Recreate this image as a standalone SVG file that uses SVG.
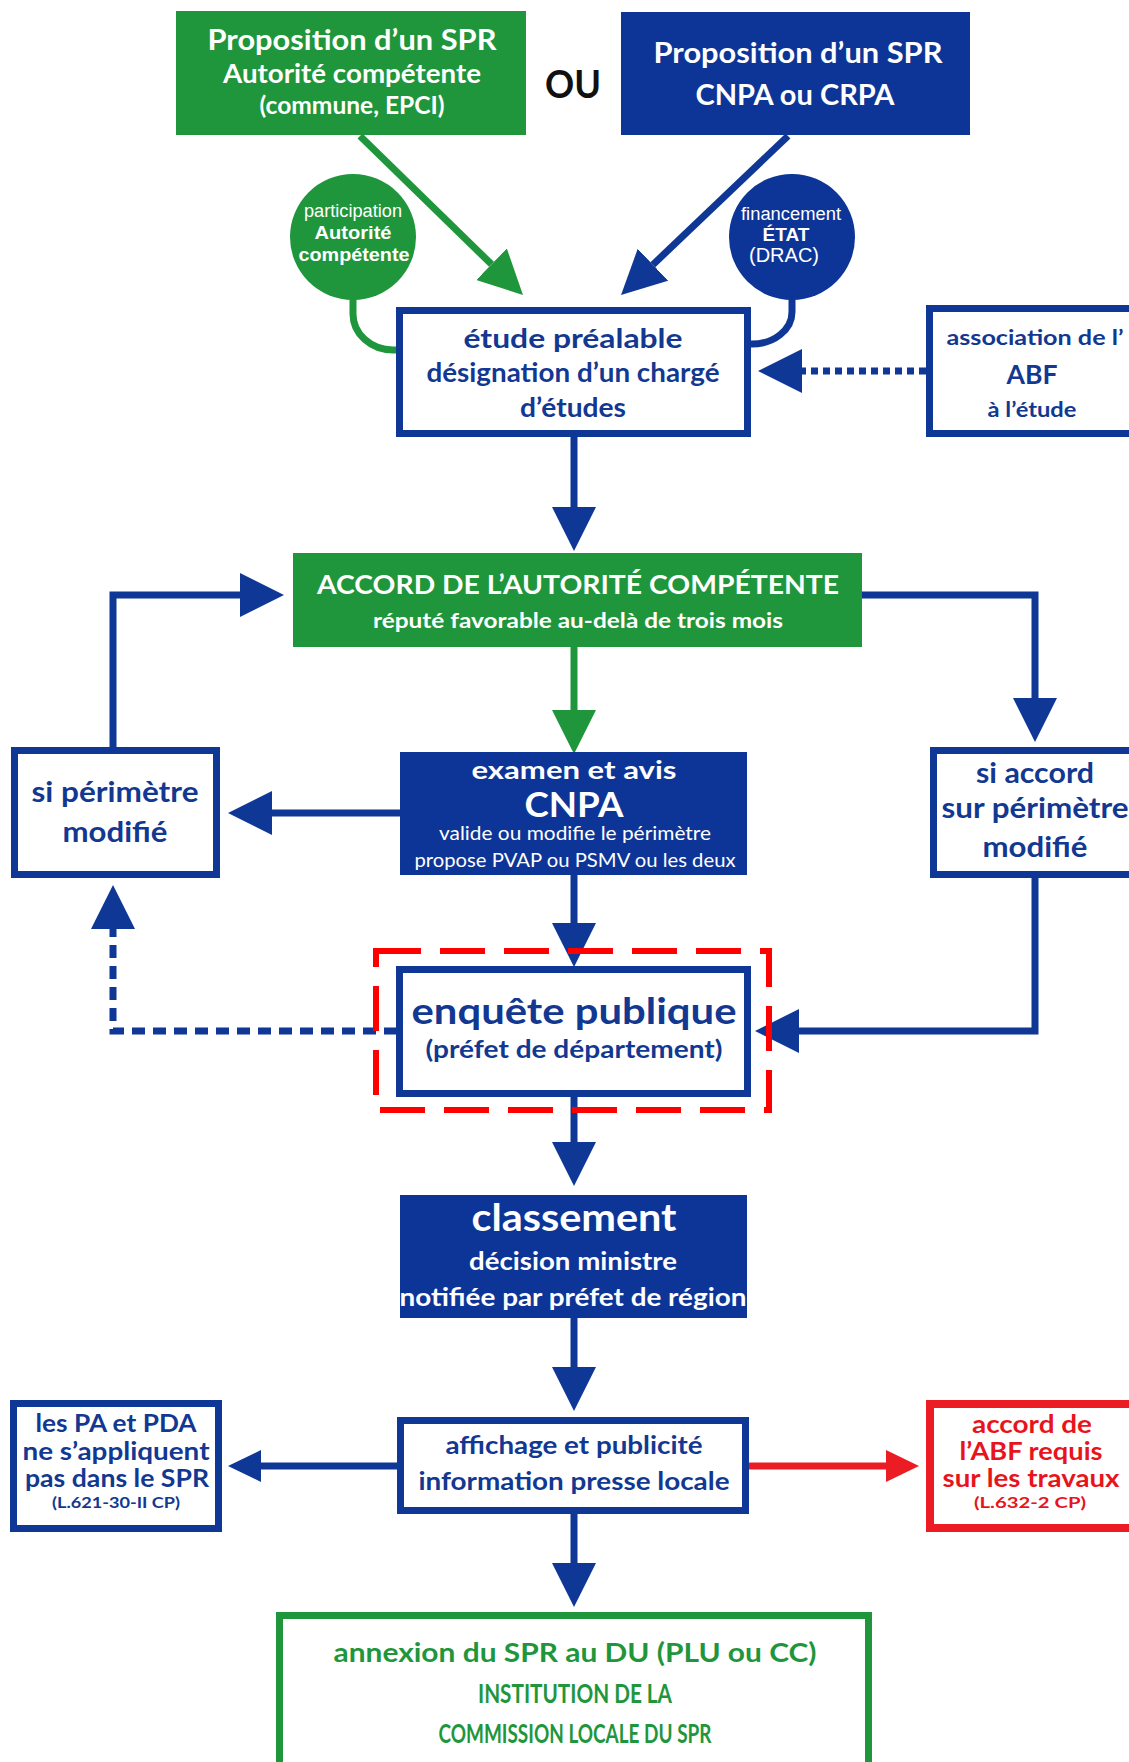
<svg xmlns="http://www.w3.org/2000/svg" width="1129" height="1762" viewBox="0 0 1129 1762">
<style>
text{font-family:Lato,"Open Sans","Liberation Sans",sans-serif;font-weight:700;text-anchor:middle}
.w{fill:#ffffff}
.b{fill:#123891}
.g{fill:#1f963c}
.r{fill:#e8141b}
.k{fill:#111111}
.ar{font-family:"Liberation Sans",Arial,sans-serif}
.n{font-weight:400}
.fg{fill:#1f963c}
.fb{fill:#0d3597}
.ob{fill:#ffffff;stroke:#0e3796;stroke-width:7}
.og{fill:#ffffff;stroke:#1f963c;stroke-width:7}
.orr{fill:#ffffff;stroke:#ec1c24;stroke-width:8}
.cb{fill:none;stroke:#0e3796;stroke-width:7}
.cg{fill:none;stroke:#1f963c;stroke-width:7}
.cr{fill:none;stroke:#ec1c24;stroke-width:7}
</style>
<defs>
<marker id="mb" markerUnits="userSpaceOnUse" markerWidth="44" markerHeight="44" refX="0" refY="22" orient="auto" viewBox="0 0 44 44"><path d="M0,0 L44,22 L0,44 Z" fill="#0e3796"/></marker>
<marker id="mg" markerUnits="userSpaceOnUse" markerWidth="44" markerHeight="44" refX="0" refY="22" orient="auto" viewBox="0 0 44 44"><path d="M0,0 L44,22 L0,44 Z" fill="#1f963c"/></marker>
<marker id="sb" markerUnits="userSpaceOnUse" markerWidth="33" markerHeight="32" refX="0" refY="16" orient="auto" viewBox="0 0 33 32"><path d="M0,0 L33,16 L0,32 Z" fill="#0e3796"/></marker>
<marker id="sr" markerUnits="userSpaceOnUse" markerWidth="33" markerHeight="32" refX="0" refY="16" orient="auto" viewBox="0 0 33 32"><path d="M0,0 L33,16 L0,32 Z" fill="#ec1c24"/></marker>
</defs>

<g id="connectors">
<path class="cg" d="M360,136 L491.5,264.3" marker-end="url(#mg)"/>
<path class="cb" d="M788,136 L652.9,264.7" marker-end="url(#mb)"/>
<path class="cg" stroke-width="6" d="M353,299 V314 A40,36 0 0 0 393,350 H398"/>
<path class="cb" stroke-width="6" d="M792,299 V312 A40,32 0 0 1 752,344 H748"/>
<path class="cb" stroke-dasharray="7 5" d="M926,371 H802" marker-end="url(#mb)"/>
<path class="cb" d="M574,437 V507" marker-end="url(#mb)"/>
<path class="cg" stroke-width="6" d="M574,647 V710" marker-end="url(#mg)"/>
<path class="cb" d="M113,747 V595 H240" marker-end="url(#mb)"/>
<path class="cb" d="M862,595 H1035 V698" marker-end="url(#mb)"/>
<path class="cb" d="M400,813 H272" marker-end="url(#mb)"/>
<path class="cb" d="M574,875 V923" marker-end="url(#mb)"/>
<path class="cb" d="M1035,878 V1031 H799" marker-end="url(#mb)"/>
<path class="cb" stroke-dasharray="13 8" d="M397,1031 H113 V929" marker-end="url(#mb)"/>
<path class="cb" d="M574,1097 V1142" marker-end="url(#mb)"/>
<path class="cb" d="M574,1318 V1367" marker-end="url(#mb)"/>
<path class="cb" d="M397,1466 H261" marker-end="url(#sb)"/>
<path class="cr" d="M749,1466 H886" marker-end="url(#sr)"/>
<path class="cb" d="M574,1514 V1563" marker-end="url(#mb)"/>
</g>

<g id="prop-autorite">
<rect class="fg" x="176" y="11" width="350" height="124"/>
<text class="w" x="352" y="50" font-size="28" textLength="289" lengthAdjust="spacingAndGlyphs">Proposition d’un SPR</text>
<text class="w" x="352" y="83" font-size="26" textLength="258" lengthAdjust="spacingAndGlyphs">Autorité compétente</text>
<text class="w" x="352" y="114" font-size="24" textLength="185" lengthAdjust="spacingAndGlyphs">(commune, EPCI)</text>
</g>

<g id="ou">
<text class="k" x="573" y="98" font-size="38" textLength="56" lengthAdjust="spacingAndGlyphs">OU</text>
</g>

<g id="prop-cnpa">
<rect class="fb" x="621" y="12" width="349" height="123"/>
<text class="w" x="798" y="63" font-size="28" textLength="289" lengthAdjust="spacingAndGlyphs">Proposition d’un SPR</text>
<text class="w" x="795" y="105" font-size="28" textLength="199" lengthAdjust="spacingAndGlyphs">CNPA ou CRPA</text>
</g>

<g id="participation">
<circle class="fg" cx="353" cy="237" r="63"/>
<text class="w ar n" x="353" y="217" font-size="18" textLength="98" lengthAdjust="spacingAndGlyphs">participation</text>
<text class="w ar" x="353" y="239" font-size="19" textLength="77" lengthAdjust="spacingAndGlyphs">Autorité</text>
<text class="w ar" x="354" y="261" font-size="19" textLength="111" lengthAdjust="spacingAndGlyphs">compétente</text>
</g>

<g id="financement">
<circle class="fb" cx="792" cy="237" r="63"/>
<text class="w ar n" x="791" y="220" font-size="18" textLength="100" lengthAdjust="spacingAndGlyphs">financement</text>
<text class="w ar" x="786" y="241" font-size="19">ÉTAT</text>
<text class="w ar n" x="784" y="262" font-size="20">(DRAC)</text>
</g>

<g id="etude">
<rect class="ob" x="399.5" y="310.5" width="348" height="123"/>
<text class="b" x="573" y="348" font-size="27" textLength="219" lengthAdjust="spacingAndGlyphs">étude préalable</text>
<text class="b" x="573" y="382" font-size="26" textLength="293" lengthAdjust="spacingAndGlyphs">désignation d’un chargé</text>
<text class="b" x="573" y="417" font-size="26" textLength="106" lengthAdjust="spacingAndGlyphs">d’études</text>
</g>

<g id="abf">
<rect class="ob" x="929.5" y="308.5" width="230" height="125"/>
<text class="b" x="1035" y="345" font-size="21" textLength="177" lengthAdjust="spacingAndGlyphs">association de l’</text>
<text class="b" x="1032" y="384" font-size="27" textLength="51" lengthAdjust="spacingAndGlyphs">ABF</text>
<text class="b" x="1032" y="417" font-size="21" textLength="89" lengthAdjust="spacingAndGlyphs">à l’étude</text>
</g>

<g id="accord">
<rect class="fg" x="293" y="553" width="569" height="94"/>
<text class="w" x="578" y="594" font-size="27" textLength="522" lengthAdjust="spacingAndGlyphs">ACCORD DE L’AUTORITÉ COMPÉTENTE</text>
<text class="w" x="578" y="628" font-size="21" textLength="410" lengthAdjust="spacingAndGlyphs">réputé favorable au-delà de trois mois</text>
</g>

<g id="cnpa">
<rect class="fb" x="400" y="752" width="347" height="123"/>
<text class="w" x="574" y="779" font-size="25" textLength="205" lengthAdjust="spacingAndGlyphs">examen et avis</text>
<text class="w" x="574" y="817" font-size="34" textLength="99" lengthAdjust="spacingAndGlyphs">CNPA</text>
<text class="w n" x="575" y="840" font-size="19" textLength="272" lengthAdjust="spacingAndGlyphs">valide ou modifie le périmètre</text>
<text class="w n" x="575" y="867" font-size="19" textLength="321" lengthAdjust="spacingAndGlyphs">propose PVAP ou PSMV ou les deux</text>
</g>

<g id="si-perimetre">
<rect class="ob" x="14.5" y="750.5" width="202" height="124"/>
<text class="b" x="115" y="802" font-size="28" textLength="167" lengthAdjust="spacingAndGlyphs">si périmètre</text>
<text class="b" x="115" y="842" font-size="28" textLength="105" lengthAdjust="spacingAndGlyphs">modifié</text>
</g>

<g id="si-accord">
<rect class="ob" x="933.5" y="750.5" width="220" height="124"/>
<text class="b" x="1035" y="783" font-size="28" textLength="118" lengthAdjust="spacingAndGlyphs">si accord</text>
<text class="b" x="1035" y="818" font-size="28" textLength="187" lengthAdjust="spacingAndGlyphs">sur périmètre</text>
<text class="b" x="1035" y="857" font-size="28" textLength="105" lengthAdjust="spacingAndGlyphs">modifié</text>
</g>

<g id="enquete">
<rect class="ob" x="399.5" y="969.5" width="348" height="124"/>
<text class="b" x="574" y="1024" font-size="37" textLength="325" lengthAdjust="spacingAndGlyphs">enquête publique</text>
<text class="b" x="574" y="1058" font-size="25" textLength="297" lengthAdjust="spacingAndGlyphs">(préfet de département)</text>
</g>

<g id="enquete-highlight">
<rect x="376" y="951" width="393" height="159" fill="none" stroke="#ff0000" stroke-width="6" stroke-dasharray="45 19"/>
</g>

<g id="classement">
<rect class="fb" x="400" y="1195" width="347" height="123"/>
<text class="w" x="574" y="1231" font-size="38" textLength="205" lengthAdjust="spacingAndGlyphs">classement</text>
<text class="w" x="573" y="1270" font-size="25" textLength="208" lengthAdjust="spacingAndGlyphs">décision ministre</text>
<text class="w" x="573" y="1306" font-size="25" textLength="347" lengthAdjust="spacingAndGlyphs">notifiée par préfet de région</text>
</g>

<g id="affichage">
<rect class="ob" x="400.5" y="1420.5" width="345" height="90"/>
<text class="b" x="574" y="1454" font-size="25" textLength="257" lengthAdjust="spacingAndGlyphs">affichage et publicité</text>
<text class="b" x="574" y="1490" font-size="25" textLength="311" lengthAdjust="spacingAndGlyphs">information presse locale</text>
</g>

<g id="pa-pda">
<rect class="ob" x="13.5" y="1403.5" width="205" height="125"/>
<text class="b" x="116" y="1432" font-size="25" textLength="161" lengthAdjust="spacingAndGlyphs">les PA et PDA</text>
<text class="b" x="116" y="1460" font-size="25" textLength="187" lengthAdjust="spacingAndGlyphs">ne s’appliquent</text>
<text class="b" x="117" y="1487" font-size="25" textLength="184" lengthAdjust="spacingAndGlyphs">pas dans le SPR</text>
<text class="b" x="116" y="1508" font-size="15" textLength="128" lengthAdjust="spacingAndGlyphs">(L.621-30-II CP)</text>
</g>

<g id="accord-abf">
<rect class="orr" x="930" y="1404" width="230" height="124"/>
<text class="r" x="1032" y="1433" font-size="25" textLength="120" lengthAdjust="spacingAndGlyphs">accord de</text>
<text class="r" x="1031" y="1460" font-size="25" textLength="143" lengthAdjust="spacingAndGlyphs">l’ABF requis</text>
<text class="r" x="1031" y="1487" font-size="25" textLength="177" lengthAdjust="spacingAndGlyphs">sur les travaux</text>
<text class="r" x="1030" y="1508" font-size="16" textLength="112" lengthAdjust="spacingAndGlyphs">(L.632-2 CP)</text>
</g>

<g id="annexion">
<rect class="og" x="279.5" y="1615.5" width="589" height="160"/>
<text class="g" x="575" y="1662" font-size="27" textLength="483" lengthAdjust="spacingAndGlyphs">annexion du SPR au DU (PLU ou CC)</text>
<text class="g" x="575" y="1703" font-size="26" textLength="194" lengthAdjust="spacingAndGlyphs">INSTITUTION DE LA</text>
<text class="g" x="575" y="1743" font-size="26" textLength="273" lengthAdjust="spacingAndGlyphs">COMMISSION LOCALE DU SPR</text>
</g>
</svg>
